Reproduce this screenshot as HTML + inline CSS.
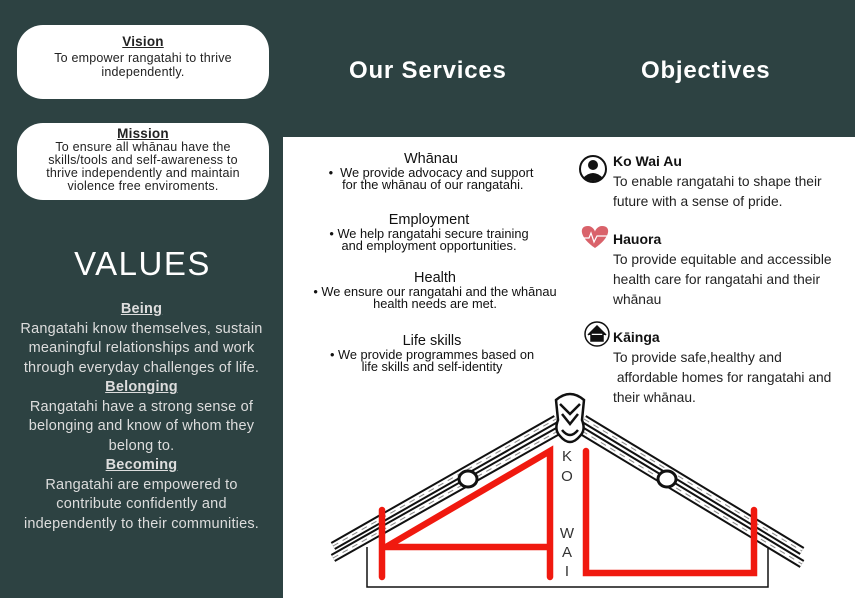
<!DOCTYPE html>
<html><head><meta charset="utf-8"><style>
body{margin:0;width:855px;height:598px;position:relative;overflow:hidden;background:#2d4242;font-family:"Liberation Sans",sans-serif}
.a{position:absolute}
.box{position:absolute;background:#fff;border-radius:26px;text-align:center;color:#222;font-size:12.5px;line-height:13px;letter-spacing:0.2px}
.box b{text-decoration:underline;font-size:13.5px;display:block;margin-bottom:1px}
.white{position:absolute;left:283px;top:137px;width:572px;height:461px;background:#fff}
.h{color:#fff;font-size:24px;font-weight:bold;letter-spacing:0.8px}
.val{position:absolute;left:0;width:283px;text-align:center;color:#ddd;font-size:14.5px;line-height:19.5px;letter-spacing:0.2px}
.val u{font-weight:bold;font-size:14.5px}
.sv{position:absolute;text-align:center;color:#111;font-size:12.8px;line-height:12px;width:300px}
.sv .t{font-size:14.5px;line-height:16px}
.ob{position:absolute;left:613px;color:#222;font-size:13.8px;line-height:20px}
.ob b{font-size:14px;color:#111}
</style></head><body>
<div class="box" style="left:17px;top:25px;width:252px;height:74px;"><div style="padding-top:10px;line-height:14px"><b style="margin-bottom:2px">Vision</b>To empower rangatahi to thrive<br>independently.</div></div>
<div class="box" style="left:17px;top:123px;width:252px;height:77px;"><div style="padding-top:4px"><b>Mission</b>To ensure all whānau have the<br>skills/tools and self-awareness to<br>thrive independently and maintain<br>violence free enviroments.</div></div>
<div class="a" style="left:0;top:245px;width:285px;text-align:center;color:#fff;font-size:33px;letter-spacing:1.5px">VALUES</div>
<div class="val" style="top:300px"><u>Being</u><br>Rangatahi know themselves, sustain<br>meaningful relationships and work<br>through everyday challenges of life.<br><u>Belonging</u><br>Rangatahi have a strong sense of<br>belonging and know of whom they<br>belong to.<br><u>Becoming</u><br>Rangatahi are empowered to<br>contribute confidently and<br>independently to their communities.</div>
<div class="white"></div>
<div class="a h" style="left:349px;top:57px">Our Services</div>
<div class="a h" style="left:641px;top:57px">Objectives</div>
<div class="sv" style="left:281px;top:151px"><div class="t">Whānau</div>• &nbsp;We provide advocacy and support<br>&nbsp;for the whānau of our rangatahi.</div>
<div class="sv" style="left:279px;top:212px"><div class="t">Employment</div>• We help rangatahi secure training<br>and employment opportunities.</div>
<div class="sv" style="left:285px;top:270px"><div class="t">Health</div>• We ensure our rangatahi and the whānau<br>health needs are met.</div>
<div class="sv" style="left:282px;top:333px"><div class="t">Life skills</div>• We provide programmes based on<br>life skills and self-identity</div>
<div class="ob" style="top:151px"><b>Ko Wai Au</b><br>To enable rangatahi to shape their<br>future with a sense of pride.</div>
<div class="ob" style="top:229px"><b>Hauora</b><br>To provide equitable and accessible<br>health care for rangatahi and their<br>whānau</div>
<div class="ob" style="top:327px"><b>Kāinga</b><br>To provide safe,healthy and<br>&nbsp;affordable homes for rangatahi and<br>their whānau.</div>
<svg class="a" style="left:0;top:0" width="855" height="598">
<circle cx="593" cy="169" r="13" fill="#fff" stroke="#111" stroke-width="2"/>
<circle cx="593" cy="165" r="5" fill="#111"/><path d="M583 178 Q593 168 603 178 Q593 184 583 178Z" fill="#111"/>
<path d="M595 248 C580 238 578 226 588 226 C592 226 595 230 595 232 C595 230 598 226 602 226 C612 226 610 238 595 248Z" fill="#d9626a"/>
<path d="M583 238 L589 238 L591 233 L594 242 L597 236 L607 236" stroke="#fff" fill="none" stroke-width="1.2"/>
<circle cx="597" cy="334" r="12" fill="#fff" stroke="#111" stroke-width="1.5"/>
<path d="M588 335 L597 326 L606 335 M591 333 V341 H603 V333Z" fill="#111" stroke="#111" stroke-width="1.5"/>
<g fill="none">
<path d="M367 547 V587 H768 V547" stroke="#111" stroke-width="1.5"/>
<g stroke="#111" stroke-width="9"><path d="M333 546 L556 419 M333 558 L558 431 M584 419 L802 551 M582 431 L802 564"/></g>
<g stroke="#fff" stroke-width="5"><path d="M333 546 L556 419 M333 558 L558 431 M584 419 L802 551 M582 431 L802 564"/></g>
<g stroke="#888" stroke-width="1" stroke-dasharray="6 5"><path d="M333 546 L556 419 M333 558 L558 431 M584 419 L802 551 M582 431 L802 564"/></g>
<ellipse cx="468" cy="479" rx="9" ry="8" stroke="#111" stroke-width="3" fill="#fff"/>
<ellipse cx="667" cy="479" rx="9" ry="8" stroke="#111" stroke-width="3" fill="#fff"/>
<path d="M556 400 Q570 388 584 400 L582 420 Q586 430 580 436 Q570 448 560 436 Q554 430 558 420Z" stroke="#111" stroke-width="2.5" fill="#fff"/>
<path d="M560 404 L570 414 L580 404 M562 414 L570 424 L578 414 M562 430 Q570 440 578 430" stroke="#111" stroke-width="2.5"/>
<g stroke="#f0190f" stroke-width="6.5" stroke-linecap="round"><path d="M382 510 V577 M386 547 L550 451 V577 M386 547 H550 M586 451 V573 H754 V510"/></g>
</g>
<g font-family="Liberation Sans" font-size="15" fill="#333" text-anchor="middle"><text x="567" y="461">K</text><text x="567" y="481">O</text><text x="567" y="538">W</text><text x="567" y="557">A</text><text x="567" y="576">I</text></g>
</svg>
</body></html>
